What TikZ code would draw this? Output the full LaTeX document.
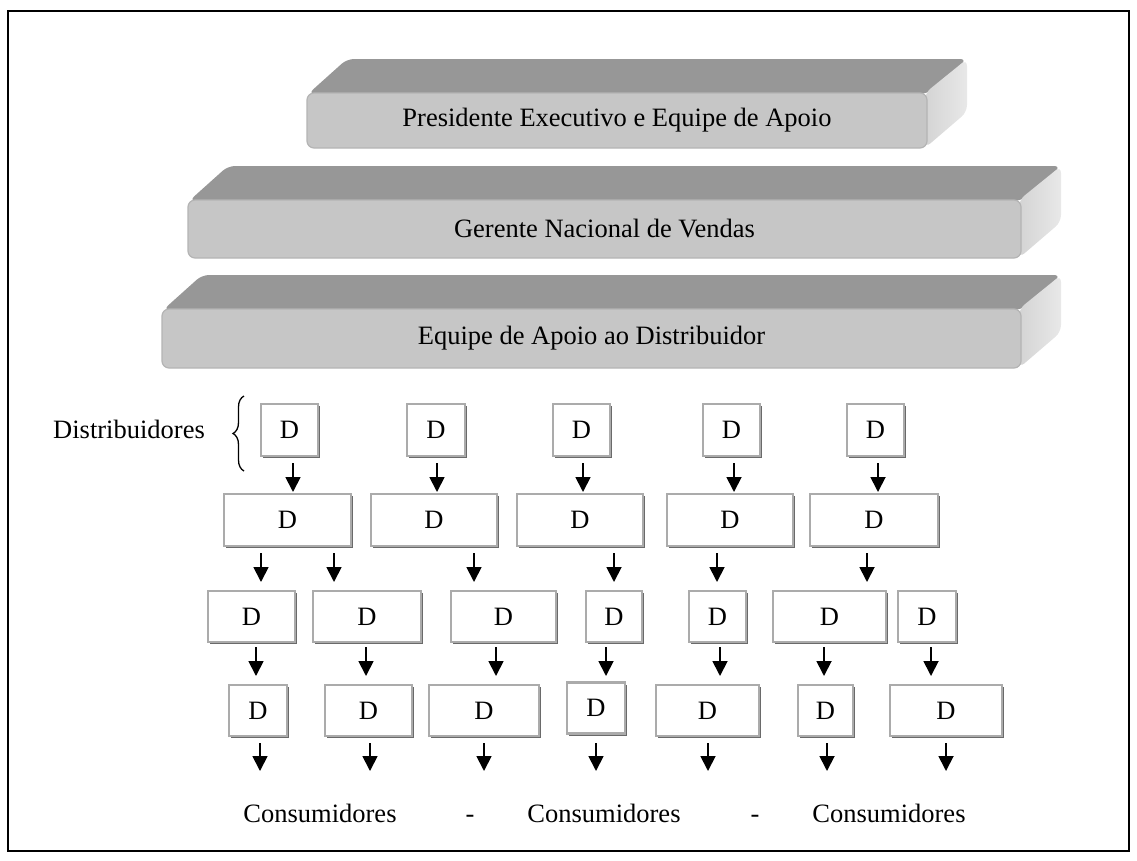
\documentclass[tikz,border=0pt]{standalone}
\usepackage{fontspec}
\setmainfont{Liberation Serif}
\usetikzlibrary{arrows.meta,shadows,decorations.pathreplacing}
\definecolor{topgray}{HTML}{979797}
\definecolor{frontgray}{HTML}{C6C6C6}
\definecolor{frontedge}{HTML}{B4B4B4}
\definecolor{sidelight}{HTML}{E8E8E8}
\definecolor{sidedark}{HTML}{D4D4D4}
\definecolor{boxedge}{HTML}{ABABAB}
\definecolor{boxshadow}{HTML}{6A6A6A}
\tikzset{
  txt/.style={font=\fontsize{26.5}{30}\selectfont, inner sep=0pt},
  barfront/.style={txt, rectangle, rounded corners=7, fill=frontgray, draw=frontedge, line width=1.2pt},
  dbox/.style={txt, rectangle, fill=white, draw=boxedge, line width=2.6pt,
    drop shadow={shadow xshift=2.2pt, shadow yshift=-2.2pt, fill=boxshadow, opacity=1}},
  arr/.style={line width=1.8pt, -{Triangle[width=15pt,length=15pt]}},
}
\newcommand\slab[6]{%
  \fill[topgray, rounded corners=7] (#2+1,#4+1) -- (#2+40,#4-34) -- (#3+40,#4-34) -- (#3,#4+1) -- cycle;
  \shade[left color=sidedark, right color=sidelight, rounded corners=7] (#3-2,#4) -- (#3+40,#4-34) -- (#3+40,#5-36) -- (#3-2,#5) -- cycle;
  \node[barfront, minimum width={(#3-#2)*1pt}, minimum height={(#5-#4)*1pt}] (#1) at ({(#2+#3)/2},{(#4+#5)/2}) {#6};
}
\newcommand\dn[3]{\draw[arr] (#1,#2) -- (#1,#3);}
\begin{document}
\begin{tikzpicture}[x=1pt,y=-1pt]
\useasboundingbox (0,0) rectangle (1137,860);
\draw[line width=2pt] (8,11) rectangle (1129,851);

\slab{b1}{307}{927}{93}{148}{Presidente Executivo e Equipe de Apoio}
\slab{b2}{188}{1021}{200}{258}{Gerente Nacional de Vendas}
\slab{b3}{162}{1021}{309}{368}{Equipe de Apoio ao Distribuidor}

\node[txt, anchor=west] (dist) at (53,429) {Distribuidores};
\draw[line width=1.3pt, decorate, decoration={brace, amplitude=11pt}] (244,471) -- (244,396);

% row 1
\node[dbox, minimum width=57, minimum height=52] (a1) at (289.5,430) {D};
\node[dbox, minimum width=58, minimum height=52] (a2) at (436,430) {D};
\node[dbox, minimum width=57, minimum height=52] (a3) at (581.5,430) {D};
\node[dbox, minimum width=57, minimum height=52] (a4) at (731.5,430) {D};
\node[dbox, minimum width=57, minimum height=52] (a5) at (875.5,430) {D};
% row 2
\node[dbox, minimum width=127, minimum height=52] (c1) at (287.5,520) {D};
\node[dbox, minimum width=126, minimum height=52] (c2) at (434,520) {D};
\node[dbox, minimum width=126, minimum height=52] (c3) at (580,520) {D};
\node[dbox, minimum width=126, minimum height=52] (c4) at (730,520) {D};
\node[dbox, minimum width=128, minimum height=52] (c5) at (874,520) {D};
% row 3
\node[dbox, minimum width=87, minimum height=51] (e1) at (251.5,616.5) {D};
\node[dbox, minimum width=108, minimum height=51] (e2) at (367,616.5) {D};
\node[dbox, minimum width=105, minimum height=51] (e3) at (503.5,616.5) {D};
\node[dbox, minimum width=56, minimum height=51] (e4) at (614,616.5) {D};
\node[dbox, minimum width=57, minimum height=51] (e5) at (717.5,616.5) {D};
\node[dbox, minimum width=113, minimum height=51] (e6) at (829.5,616.5) {D};
\node[dbox, minimum width=58, minimum height=51] (e7) at (927,616.5) {D};
% row 4
\node[dbox, minimum width=58, minimum height=51] (g1) at (258,710.5) {D};
\node[dbox, minimum width=87, minimum height=51] (g2) at (368.5,710.5) {D};
\node[dbox, minimum width=110, minimum height=51] (g3) at (484,710.5) {D};
\node[dbox, minimum width=58, minimum height=51] (g4) at (596,708) {D};
\node[dbox, minimum width=103, minimum height=51] (g5) at (707.5,710.5) {D};
\node[dbox, minimum width=55, minimum height=51] (g6) at (825.5,710.5) {D};
\node[dbox, minimum width=112, minimum height=51] (g7) at (946,710.5) {D};

% arrows
\foreach \x in {293,437,583,734,878} {\dn{\x}{463}{492}}
\foreach \x in {261,334,474,614,717,867} {\dn{\x}{553}{582}}
\foreach \x in {256,366,496,606,720,824,931} {\dn{\x}{647}{676}}
\foreach \x in {260,370,484,596,708,827,946} {\dn{\x}{743}{771}}

\node[txt, anchor=base] (k1) at (320,822) {Consumidores};
\node[txt, anchor=base] (s1) at (470,822) {-};
\node[txt, anchor=base] (k2) at (604,822) {Consumidores};
\node[txt, anchor=base] (s2) at (755,822) {-};
\node[txt, anchor=base] (k3) at (889,822) {Consumidores};
\end{tikzpicture}
\end{document}
